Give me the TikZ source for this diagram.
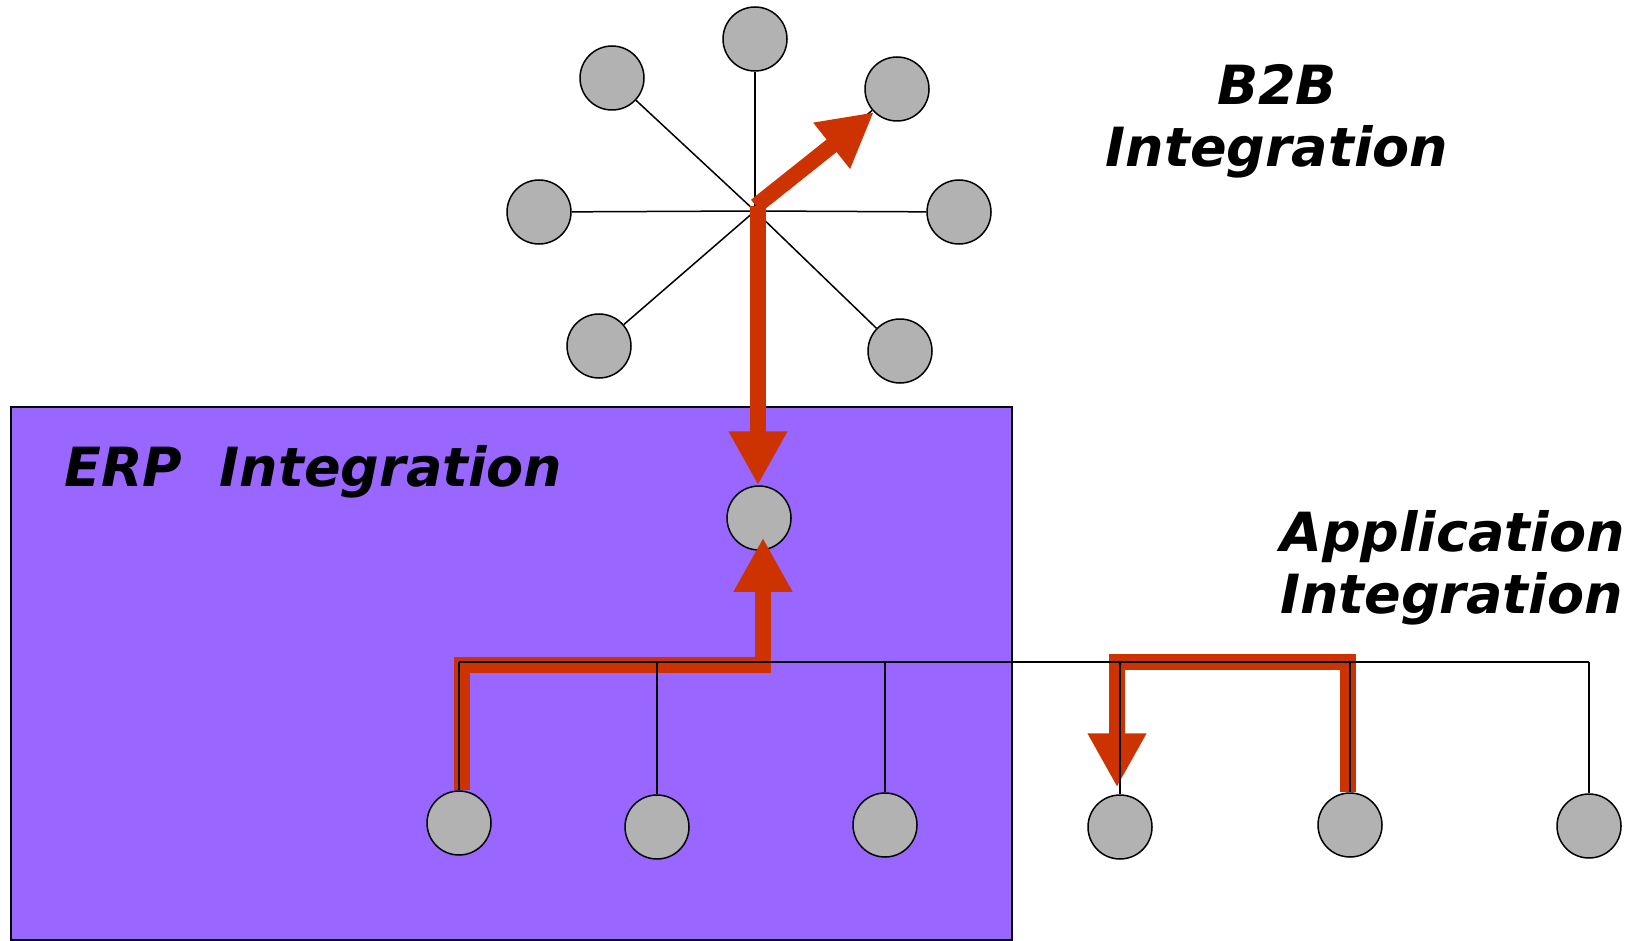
\documentclass[tikz,border=0pt]{standalone}
\usepackage{fontspec}
\setmainfont{DejaVu Sans}
\usetikzlibrary{arrows.meta}
\definecolor{flowred}{RGB}{204,51,0}
\definecolor{erpviolet}{RGB}{153,102,255}
\definecolor{sitegray}{RGB}{178,178,178}
\begin{document}
\begin{tikzpicture}
[	x=1pt,y=-1pt,
site/.style={circle,draw=black,fill=sitegray,line width=1.5pt,minimum size=64pt,inner sep=0pt},
link/.style={draw=black,line width=1.5pt},
flow/.style={draw=flowred,line width=16pt,line join=miter,-{Triangle[width=55pt,length=54pt]}},
heading/.style={font=\bfseries\itshape\fontsize{54}{62}\selectfont,inner sep=0pt}
]
\useasboundingbox (0,0) rectangle (1629,941);

% ERP box
\draw[fill=erpviolet,draw=black,line width=2pt] (11,407) rectangle (1012,940);
\node[heading,anchor=base west] (erptitle) at (64,486){ERP\ \ Integration};
\node[heading,align=center,anchor=north] (b2btitle) at (1277,64){B2B\\Integration};
\node[heading,align=left,anchor=north west] (apptitle) at (1280,510){Application\\Integration};

% B2B star
\coordinate (hub) at (755,211);
\node[site] (b1) at (755,39){};
\node[site] (b2) at (612,78){};
\node[site] (b3) at (897,89){};
\node[site] (b4) at (539,212){};
\node[site] (b5) at (959,212){};
\node[site] (b6) at (599,346){};
\node[site] (b7) at (900,351){};

\draw[link] (hub) -- (b1);
\draw[link] (hub) -- (b2);
\draw[link] (hub) -- (b3);
\draw[link] (hub) -- (b4);
\draw[link] (hub) -- (b5);
\draw[link] (hub) -- (b6);
\draw[link] (hub) -- (b7);

% ERP hub and application bus
\node[site] (erp) at (759,518){};
\coordinate (busw) at (459,662);
\coordinate (buse) at (1589,662);
\node[site] (a1) at (459,823){};
\node[site] (a2) at (657,827){};
\node[site] (a3) at (885,825){};
\node[site] (a4) at (1120,827){};
\node[site] (a5) at (1350,825){};
\node[site] (a6) at (1589,826){};

% message flows
\draw[flow] ([xshift=3pt,yshift=5pt]hub) -- ([xshift=3pt]hub |- erp.north);
\draw[flow] ([xshift=1pt,yshift=5pt]hub) -- (b3.225);
\draw[flow] ([xshift=3pt]a1.north) -- ++(0,-125) -| ([xshift=4pt,yshift=13pt]erp.south);
\draw[flow] ([xshift=-2pt]a5.north) -- ++(0,-130) -| ([xshift=-3pt,yshift=7pt]a4.north);

\draw[link] (busw) -- (buse);
\draw[link] (a1) -- (a1 |- busw);
\draw[link] (a2) -- (a2 |- busw);
\draw[link] (a3) -- (a3 |- busw);
\draw[link] (a4) -- (a4 |- busw);
\draw[link] (a5) -- (a5 |- busw);
\draw[link] (a6) -- (a6 |- busw);
\end{tikzpicture}
\end{document}
